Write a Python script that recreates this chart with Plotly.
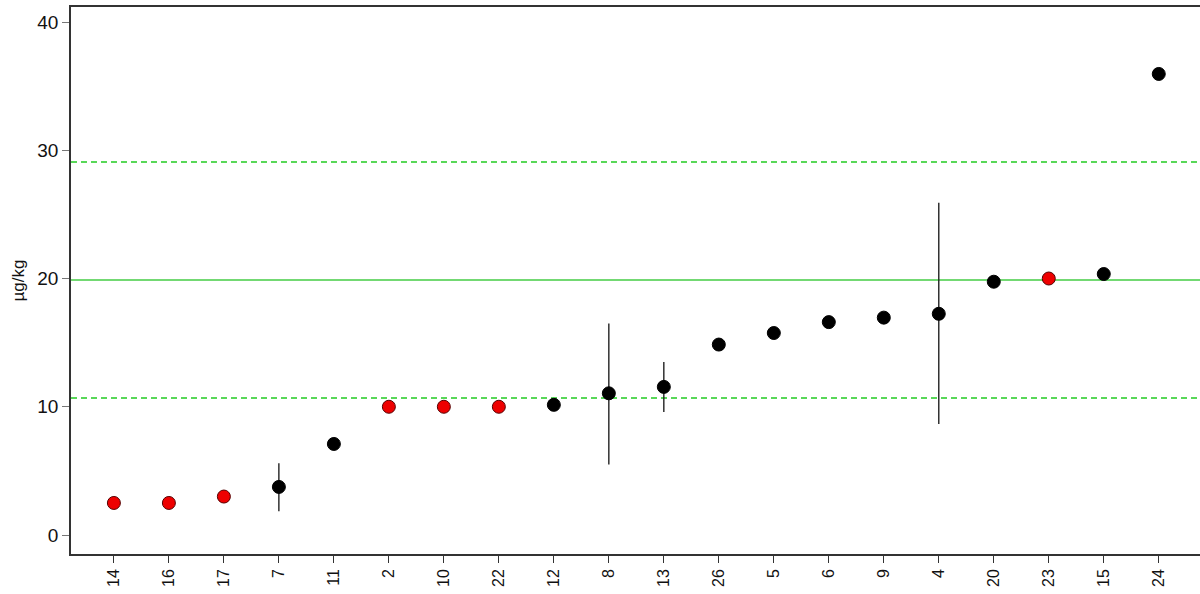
import plotly.graph_objects as go

# Laboratory codes, ordered by reported result
labs = ["14", "16", "17", "7", "11", "2", "10", "22", "12", "8",
        "13", "26", "5", "6", "9", "4", "20", "23", "15", "24"]
# Reported concentrations (µg/kg)
values = [2.5, 2.5, 3.0, 3.75, 7.1, 10.0, 10.0, 10.0, 10.15, 11.05,
          11.55, 14.85, 15.75, 16.6, 16.95, 17.25, 19.75, 20.0, 20.35, 35.95]
# Reported expanded uncertainty (upper / lower), None where not given
unc_plus = [None, None, None, 1.85, None, None, None, None, None, 5.45,
            1.95, None, None, None, None, 8.65, None, None, None, None]
unc_minus = [None, None, None, 1.9, None, None, None, None, None, 5.55,
             1.95, None, None, None, None, 8.6, None, None, None, None]
# Results reported as "less than" values
censored = [True, True, True, False, False, True, True, True, False, False,
            False, False, False, False, False, False, False, True, False, False]

assigned_value = 19.88
lower_limit = 10.68
upper_limit = 29.08

x = list(range(len(labs)))
colors = ["#ee0000" if c else "#000000" for c in censored]
outlines = ["#550000" if c else "#000000" for c in censored]

fig = go.Figure()
fig.add_trace(go.Scatter(
    x=x, y=values, mode="markers",
    marker=dict(size=13, color=colors, line=dict(color=outlines, width=1)),
    error_y=dict(type="data", symmetric=False, array=unc_plus,
                 arrayminus=unc_minus, width=0, thickness=1.4, color="#222222"),
    showlegend=False,
))

fig.add_shape(type="line", xref="paper", x0=0, x1=1, yref="y",
              y0=assigned_value, y1=assigned_value,
              line=dict(color="#44cc44", width=1.6), layer="below")
for lim in (lower_limit, upper_limit):
    fig.add_shape(type="line", xref="paper", x0=0, x1=1, yref="y",
                  y0=lim, y1=lim,
                  line=dict(color="#22cc22", width=1.4, dash="6px,4px"),
                  layer="below")

fig.update_layout(
    width=1200, height=594,
    margin=dict(l=71, r=0, t=7, b=40),
    plot_bgcolor="white", paper_bgcolor="white",
    font=dict(family="Liberation Sans, Arial, sans-serif", color="#111111"),
    xaxis=dict(
        range=[-0.78, 19.75], tickmode="array", tickvals=x, ticktext=labs,
        tickangle=-90, ticks="outside", ticklen=7, tickcolor="#333333",
        showline=True, linecolor="#333333", linewidth=1.5, mirror=True,
        showgrid=False, zeroline=False, tickfont=dict(size=16),
    ),
    yaxis=dict(
        range=[-1.48, 41.17], tickvals=[0, 10, 20, 30, 40],
        ticks="outside", ticklen=7, tickcolor="#777777",
        showline=True, linecolor="#333333", linewidth=1.5,
        showgrid=False, zeroline=False, tickfont=dict(size=19),
        title=dict(text="µg/kg", font=dict(size=17), standoff=8),
    ),
)

fig.write_html("out.html")
